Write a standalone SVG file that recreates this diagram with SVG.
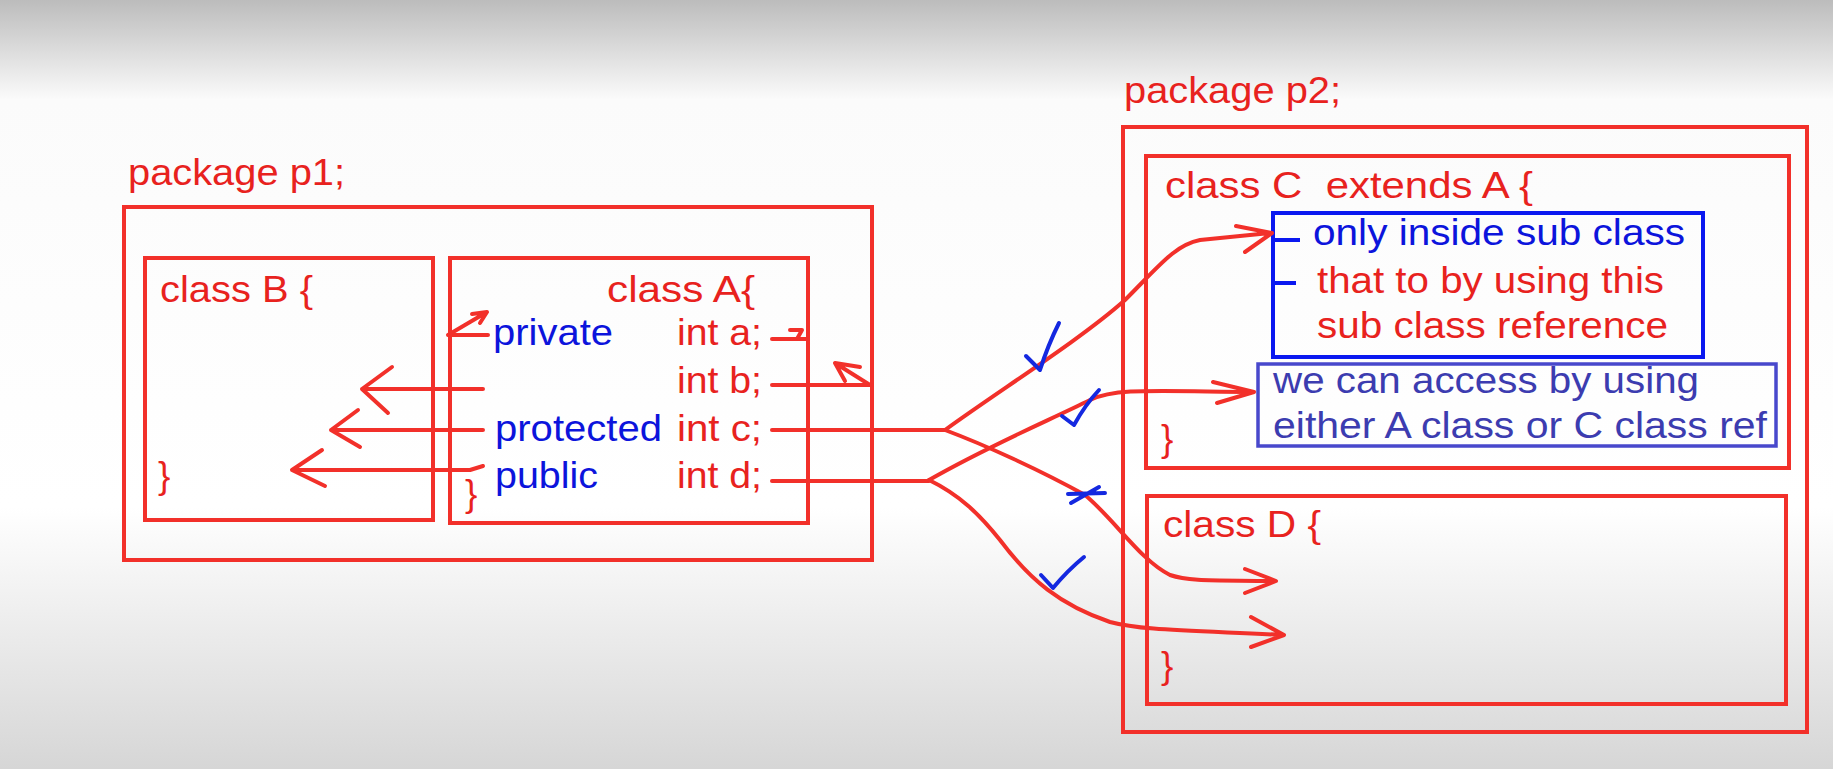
<svg xmlns="http://www.w3.org/2000/svg" width="1833" height="769" viewBox="0 0 1833 769">
<defs>
<linearGradient id="bg" x1="0" y1="0" x2="0" y2="1">
<stop offset="0" stop-color="#bcbcbc"/>
<stop offset="0.13" stop-color="#fbfbfb"/>
<stop offset="0.66" stop-color="#ffffff"/>
<stop offset="1" stop-color="#d6d6d6"/>
</linearGradient>
<style>
.t{font-family:"Liberation Sans",Arial,sans-serif;font-size:37px;white-space:pre;}
.r{fill:#e8221e;}
.b{fill:#0c14dc;}
.p{fill:#3c3cb0;}
.box{fill:none;stroke:#f2302a;stroke-width:4;}
.ln{fill:none;stroke:#f2302a;stroke-width:4;stroke-linecap:round;stroke-linejoin:round;}
.chk{fill:none;stroke:#1428e0;stroke-width:4;stroke-linecap:round;stroke-linejoin:round;}
</style>
</defs>
<rect x="0" y="0" width="1833" height="769" fill="url(#bg)"/>

<g id="package-p1">
<text class="t r" x="128" y="185" textLength="217" lengthAdjust="spacingAndGlyphs">package p1;</text>
<rect class="box" x="124" y="207" width="748" height="353"/>
</g>

<g id="class-B">
<rect class="box" x="145" y="258" width="288" height="262"/>
<text class="t r" x="160" y="302" textLength="153" lengthAdjust="spacingAndGlyphs">class B {</text>
<text class="t r" x="158" y="488">}</text>
</g>

<g id="class-A">
<rect class="box" x="450" y="258" width="358" height="265"/>
<text class="t r" x="607" y="302" textLength="148" lengthAdjust="spacingAndGlyphs">class A{</text>
<text class="t b" x="493" y="345" textLength="120" lengthAdjust="spacingAndGlyphs">private</text>
<text class="t r" x="677" y="345" textLength="85" lengthAdjust="spacingAndGlyphs">int a;</text>
<text class="t r" x="677" y="393" textLength="85" lengthAdjust="spacingAndGlyphs">int b;</text>
<text class="t b" x="495" y="441" textLength="167" lengthAdjust="spacingAndGlyphs">protected</text>
<text class="t r" x="677" y="441" textLength="85" lengthAdjust="spacingAndGlyphs">int c;</text>
<text class="t b" x="495" y="488" textLength="103" lengthAdjust="spacingAndGlyphs">public</text>
<text class="t r" x="677" y="488" textLength="85" lengthAdjust="spacingAndGlyphs">int d;</text>
<text class="t r" x="465" y="506">}</text>
</g>

<g id="package-p2">
<text class="t r" x="1124" y="103" textLength="217" lengthAdjust="spacingAndGlyphs">package p2;</text>
<rect class="box" x="1123" y="127" width="684" height="605"/>
</g>

<g id="class-C">
<rect class="box" x="1146" y="156" width="643" height="312"/>
<text class="t r" x="1165" y="198" textLength="368" lengthAdjust="spacingAndGlyphs">class C  extends A {</text>
<text class="t r" x="1161" y="451">}</text>
</g>

<g id="note-subclass">
<rect x="1273" y="213" width="430" height="144" fill="none" stroke="#0a18f0" stroke-width="4"/>
<line x1="1273" y1="240" x2="1300" y2="240" stroke="#0a18f0" stroke-width="4"/>
<line x1="1273" y1="283" x2="1296" y2="283" stroke="#0a18f0" stroke-width="4"/>
<text class="t b" x="1313" y="245" textLength="372" lengthAdjust="spacingAndGlyphs">only inside sub class</text>
<text class="t r" x="1317" y="293" textLength="347" lengthAdjust="spacingAndGlyphs">that to by using this</text>
<text class="t r" x="1317" y="338" textLength="351" lengthAdjust="spacingAndGlyphs">sub class reference</text>
</g>

<g id="note-access">
<rect x="1258" y="364" width="518" height="82" fill="none" stroke="#4848cc" stroke-width="3.5"/>
<text class="t p" x="1273" y="393" textLength="426" lengthAdjust="spacingAndGlyphs">we can access by using</text>
<text class="t p" x="1273" y="438" textLength="494" lengthAdjust="spacingAndGlyphs">either A class or C class ref</text>
</g>

<g id="class-D">
<rect class="box" x="1147" y="496" width="639" height="208"/>
<text class="t r" x="1163" y="537" textLength="158" lengthAdjust="spacingAndGlyphs">class D {</text>
<text class="t r" x="1161" y="678">}</text>
</g>

<g id="connectors">
<path class="ln" d="M448,335 H488 M448,335 L487,312 M472,314 L487,312 L480,323"/>
<path class="ln" d="M772,339 H806 M790,330 H802 L797,339"/>
<path class="ln" d="M772,385 H870 M870,385 L835,363 M835,363 L845,381 M835,363 L860,367"/>
<path class="ln" d="M483,389 H362 M392,367 L362,389 L388,413"/>
<path class="ln" d="M483,430 H331 M358,410 L331,430 L360,447"/>
<path class="ln" d="M483,466 L470,470 H292 M322,450 L292,470 L325,486"/>
<path class="ln" d="M772,430 H945"/>
<path class="ln" d="M945,430 C1000,390 1080,340 1125,300 C1160,265 1175,245 1200,240 L1270,233 M1236,226 L1272,233 L1245,252"/>
<path class="ln" d="M945,430 C985,445 1040,470 1085,495 C1115,520 1140,560 1170,575 C1190,582 1220,580 1275,581 M1245,569 L1276,581 L1245,593"/>
<path class="ln" d="M772,481 H929"/>
<path class="ln" d="M929,480 C990,445 1050,420 1090,400 C1115,388 1150,391 1254,392 M1213,382 L1254,392 L1217,403"/>
<path class="ln" d="M929,480 C960,495 980,515 1000,540 C1030,580 1060,605 1110,622 C1140,630 1180,630 1284,635 M1251,617 L1284,635 L1251,647"/>
<path class="chk" d="M1026,356 L1040,370 Q1048,345 1059,323"/>
<path class="chk" d="M1062,416 L1074,425 Q1085,405 1099,390"/>
<path class="chk" d="M1068,494 L1105,493 M1071,503 L1099,487"/>
<path class="chk" d="M1041,575 L1053,588 Q1068,570 1084,557"/>
</g>
</svg>
